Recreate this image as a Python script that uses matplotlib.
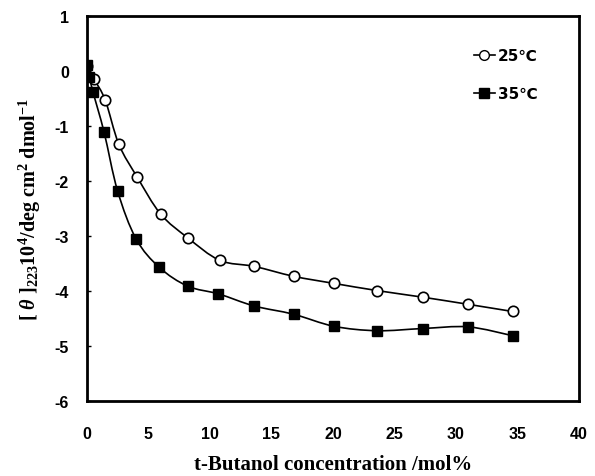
import numpy as np
import matplotlib
matplotlib.use("Agg")
import matplotlib.pyplot as plt
from matplotlib.path import Path
from matplotlib.patches import PathPatch
from matplotlib.lines import Line2D

# data
x25 = [0, 0.6, 1.5, 2.6, 4.1, 6.0, 8.2, 10.8, 13.6, 16.8, 20.1, 23.6, 27.3, 31.0, 34.6]
y25 = [0.1, -0.15, -0.53, -1.33, -1.93, -2.6, -3.03, -3.44, -3.55, -3.73, -3.86, -3.99, -4.11, -4.24, -4.37]
x35 = [0, 0.2, 0.5, 1.4, 2.5, 4.0, 5.9, 8.2, 10.7, 13.6, 16.8, 20.1, 23.6, 27.3, 31.0, 34.6]
y35 = [0.12, -0.1, -0.38, -1.11, -2.18, -3.05, -3.57, -3.91, -4.05, -4.27, -4.42, -4.64, -4.72, -4.68, -4.65, -4.81]
labels = ["25\u2103", "35\u2103"]

plt.rcParams['axes.unicode_minus'] = False
plt.rcParams['mathtext.fontset'] = 'custom'
plt.rcParams['mathtext.rm'] = 'Liberation Serif:bold'
plt.rcParams['mathtext.it'] = 'Liberation Serif:bold:italic'
plt.rcParams['mathtext.bf'] = 'Liberation Serif:bold'

tick_font = dict(family=['Liberation Sans', 'DejaVu Sans'], weight='bold', size=11.5)


def smooth_path(xs, ys):
    # excel-like smoothed line (catmull-rom as cubic bezier)
    p = np.column_stack([xs, ys]).astype(float)
    n = len(p)
    verts = [p[0]]
    codes = [Path.MOVETO]
    for i in range(n - 1):
        p0 = p[i - 1] if i > 0 else p[i]
        p1 = p[i]
        p2 = p[i + 1]
        p3 = p[i + 2] if i + 2 < n else p[i + 1]
        c1 = p1 + (p2 - p0) / 6
        c2 = p2 - (p3 - p1) / 6
        verts += [c1, c2, p2]
        codes += [Path.CURVE4] * 3
    return Path(verts, codes)


fig = plt.figure(figsize=(5.95, 4.77), dpi=100)
ax = fig.add_axes([0.146, 0.157, 0.827, 0.807])

for xs, ys in [(x25, y25), (x35, y35)]:
    ax.add_patch(PathPatch(smooth_path(xs, ys), fill=False, lw=1.2, color='black', zorder=2))

ax.plot(x25, y25, 'o', ms=7.5, mfc='white', mec='black', mew=1.2, zorder=3)
ax.plot(x35, y35, 's', ms=7.8, mfc='black', mec='black', zorder=4)

ax.set_xlim(0, 40)
ax.set_ylim(-6, 1)
ax.set_xticks(np.arange(0, 41, 5))
ax.set_yticks(np.arange(-6, 2, 1))
ax.tick_params(axis='y', direction='in', length=3, width=1, pad=13)
ax.tick_params(axis='x', length=0, pad=18)
for lab in ax.get_xticklabels() + ax.get_yticklabels():
    lab.set(**tick_font)
for s in ax.spines.values():
    s.set_linewidth(2)

ax.set_xlabel('t-Butanol concentration /mol%', family='Liberation Serif', weight='bold',
              size=15, labelpad=9)
ax.set_ylabel(r'[ $\theta$ ]$_{223}$10$^{4}$/deg cm$^{2}$ dmol$^{\mathregular{-1}}$',
              family='Liberation Serif', weight='bold', size=14.5, labelpad=8)

handles = [Line2D([], [], color='black', lw=1.2, marker='o', ms=7, mfc='white', mec='black'),
           Line2D([], [], color='black', lw=1.2, marker='s', ms=7.5, mfc='black')]
ax.legend(handles, labels, loc='upper right', bbox_to_anchor=(0.945, 0.952), frameon=False,
          handlelength=1.4, handletextpad=0.2, labelspacing=1.5,
          prop=dict(family=['DejaVu Sans'], weight='bold', size=11))

fig.savefig('out.png', dpi=100)
